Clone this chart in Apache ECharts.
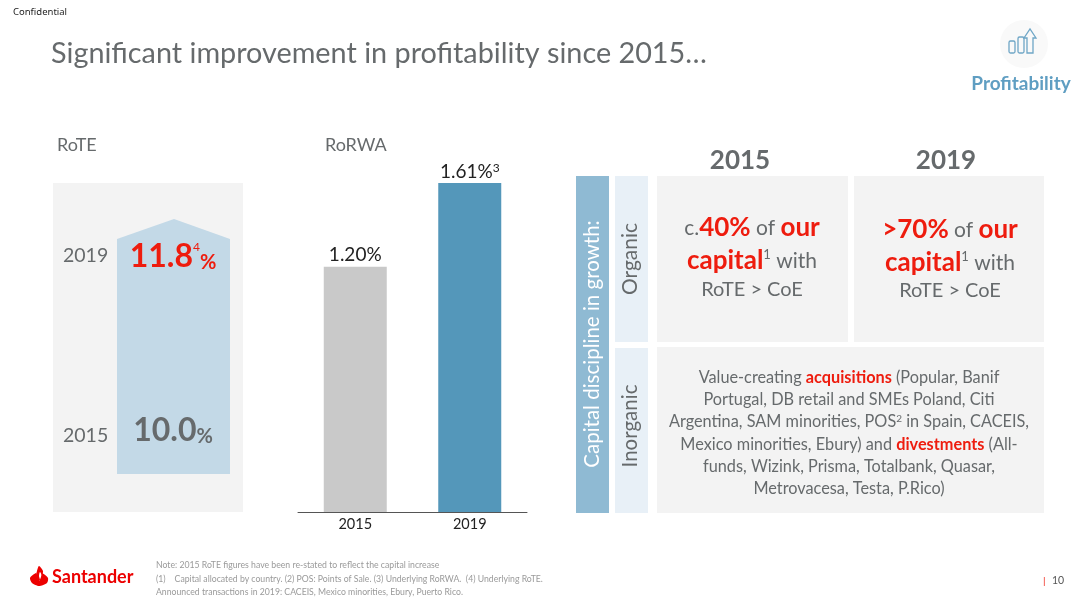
<!DOCTYPE html>
<html><head><meta charset="utf-8">
<style>html,body{margin:0;padding:0;background:#fff}#c{width:1080px;height:607px}</style>
<script src="https://cdn.jsdelivr.net/npm/echarts@6/dist/echarts.min.js"></script>
</head><body><div id="c"></div>
<script>
const rorwaYears = ['2015', '2019'];
const rorwaValues = [1.20, 1.61];
const rorwaLabels = ['1.20%', '1.61%{s|3}'];
const roteYears = ['2019', '2015'];
const roteValues = ['11.8', '10.0'];
const pageTitle = 'Significant improvement in profitability since 2015…';
const notes = [
  'Note: 2015 RoTE figures have been re-stated to reflect the capital increase',
  '(1)    Capital allocated by country. (2) POS: Points of Sale. (3) Underlying RoRWA.  (4) Underlying RoTE.',
  'Announced transactions in 2019: CACEIS, Mexico minorities, Ebury, Puerto Rico.'
];
const inorganicLines = [
  'Value-creating {r|acquisitions} (Popular, Banif',
  'Portugal, DB retail and SMEs Poland, Citi',
  'Argentina, SAM minorities, POS{s|2} in Spain, CACEIS,',
  'Mexico minorities, Ebury) and {r|divestments} (All-',
  'funds, Wizink, Prisma, Totalbank, Quasar,',
  'Metrovacesa, Testa, P.Rico)'
];
const card2015 = ['c.{r|40%} of {r|our}', '{r|capital}{s|1} with', 'RoTE > CoE'];
const card2019 = ['{r|>70%} of {r|our}', '{r|capital}{s|1} with', 'RoTE > CoE'];

const FONT = 'Lato';
const GREY = '#666a6c', RED = '#ee1c0e';
function T(x, y, text, size, fill, o) {
  o = o || {};
  return {
    type: 'text', x, y, rotation: o.rot || 0, silent: true,
    style: {
      text, fontFamily: o.f || FONT, fontSize: size, fontWeight: o.w || 'normal', fill,
      align: o.a || 'left', verticalAlign: 'middle', rich: o.rich
    }
  };
}
function R(x, y, w, h, fill) {
  return { type: 'rect', shape: { x, y, width: w, height: h }, style: { fill }, silent: true };
}
const cardRich = (size, rs) => ({
  r: { fontFamily: FONT, fontSize: rs || size, fontWeight: 'bold', fill: RED },
  s: { fontFamily: FONT, fontSize: Math.round(size * 0.6), fill: GREY, verticalAlign: 'top' }
});
const g = [];
g.push(T(13, 12, 'Confidential', 9.5, '#222', { f: 'Noto Sans' }));
g.push(T(51, 54, pageTitle, 28.8, GREY));
g.push({ type: 'circle', shape: { cx: 1024, cy: 44, r: 24 }, style: { fill: '#f9f9f9' }, silent: true });
const ic = { stroke: '#6fa6c6', lineWidth: 1.3, fill: 'none' };
g.push({ type: 'rect', shape: { x: 1009, y: 41, width: 6, height: 12, r: 1.5 }, style: ic, silent: true });
g.push({ type: 'rect', shape: { x: 1018, y: 37, width: 6, height: 16, r: 1.5 }, style: ic, silent: true });
g.push({ type: 'polygon', shape: { points: [[1027,53],[1027,38],[1024,38],[1030,29],[1036,38],[1033,38],[1033,53]] }, style: ic, silent: true });
g.push(T(1021, 84, 'Profitability', 19, '#5f9ec2', { a: 'center', w: 'bold' }));

g.push(T(57, 145, 'RoTE', 18, GREY));
g.push(R(53, 183, 190, 329, '#f3f3f3'));
g.push({ type: 'polygon', shape: { points: [[117,239],[174,219],[230,239],[230,474],[117,474]] }, style: { fill: '#c3d9e7' }, silent: true });
g.push(T(63, 256, roteYears[0], 19.5, GREY));
g.push(T(63, 436, roteYears[1], 19.5, GREY));
g.push(T(173, 257, '{b|' + roteValues[0] + '}{s|4}{p|%}', 32, RED, { a: 'center', rich: {
  b: { fontFamily: FONT, fontSize: 32, fontWeight: 'bold', fill: RED },
  s: { fontFamily: FONT, fontSize: 12, fill: RED, verticalAlign: 'top' },
  p: { fontFamily: FONT, fontSize: 20, fontWeight: 'bold', fill: RED, verticalAlign: 'bottom' }
}}));
g.push(T(173, 431, '{b|' + roteValues[1] + '}{p|%}', 32, GREY, { a: 'center', rich: {
  b: { fontFamily: FONT, fontSize: 32, fontWeight: 'bold', fill: GREY },
  p: { fontFamily: FONT, fontSize: 20, fontWeight: 'bold', fill: GREY, verticalAlign: 'bottom' }
}}));

g.push(T(325, 145, 'RoRWA', 18, GREY));

g.push(T(740, 161, '2015', 26, GREY, { a: 'center', w: 'bold' }));
g.push(T(946, 161, '2019', 26, GREY, { a: 'center', w: 'bold' }));
g.push(R(576, 176, 33, 337, '#8fbad3'));
g.push(R(615, 176, 33, 166, '#e8f0f7'));
g.push(R(615, 348, 33, 165, '#e8f0f7'));
g.push(R(657, 176, 191, 166, '#f3f3f3'));
g.push(R(854, 176, 190, 166, '#f3f3f3'));
g.push(R(657, 347, 387, 166, '#f3f3f3'));
const ROT = Math.PI / 2;
g.push(T(592, 344, 'Capital discipline in growth:', 20.5, '#fff', { a: 'center', rot: ROT }));
g.push(T(630, 259, 'Organic', 21, GREY, { a: 'center', rot: ROT }));
g.push(T(630, 426, 'Inorganic', 20.5, GREY, { a: 'center', rot: ROT }));

const cardY = [[228, 261, 290], [230, 263, 291]];
[[card2015, 752], [card2019, 950]].forEach(([lines, cx], i) => {
  lines.forEach((l, j) => {
    g.push(T(cx, cardY[i][j], l, j === 2 ? 20 : 21, GREY, { a: 'center', rich: cardRich(21, 26) }));
  });
});
const inY = [378, 400, 422, 445, 467, 489];
inorganicLines.forEach((l, j) => g.push(T(849, inY[j], l, 16.3, GREY, { a: 'center', rich: cardRich(16.3) })));

// Santander flame mark
const redLogo = { fill: '#ec0000' };
g.push({ type: 'polygon', shape: { smooth: 0.25, points: [[30,578],[36,573],[37,577],[39,581],[41,577],[42,573],[48,578],[47,583],[39,586],[32,583]] }, style: redLogo, silent: true });
g.push({ type: 'polygon', shape: { smooth: 0.3, points: [[39,566],[43,571],[42,575],[40,572],[39,576],[40,580],[38,581],[36,576],[37,571]] }, style: redLogo, silent: true });
g.push(T(52, 577, 'Santander', 18, '#ec0000', { w: 'bold' }));
[565, 579, 592].forEach((y, i) => g.push(T(156, y, notes[i], 8.7, '#9a9a9a')));
g.push(T(1043, 581, '|', 10, RED));
g.push(T(1052, 581, '10', 10.5, '#555'));

const chart = echarts.init(document.getElementById('c'), null, { renderer: 'canvas' });
chart.setOption({
  animation: false,
  backgroundColor: '#fff',
  grid: { left: 298, width: 229, top: 183, height: 329, containLabel: false },
  xAxis: {
    type: 'category', data: rorwaYears,
    axisTick: { show: false },
    axisLine: { lineStyle: { color: '#555', width: 1 } },
    axisLabel: { color: '#222', fontFamily: FONT, fontSize: 14.5, margin: 5 }
  },
  yAxis: { type: 'value', min: 0, max: 1.61, show: false, splitLine: { show: false } },
  series: [{
    type: 'bar', barWidth: 63,
    data: rorwaValues.map((v, i) => ({
      value: v,
      itemStyle: { color: i === 0 ? '#c9c9c9' : '#5497ba' },
      label: { formatter: rorwaLabels[i] }
    })),
    label: {
      show: true, position: 'top', distance: 2, color: '#222', fontFamily: FONT, fontSize: 19,
      rich: { s: { fontFamily: FONT, fontSize: 12, color: '#222', verticalAlign: 'top' } }
    }
  }],
  graphic: g
});
</script></body></html>
